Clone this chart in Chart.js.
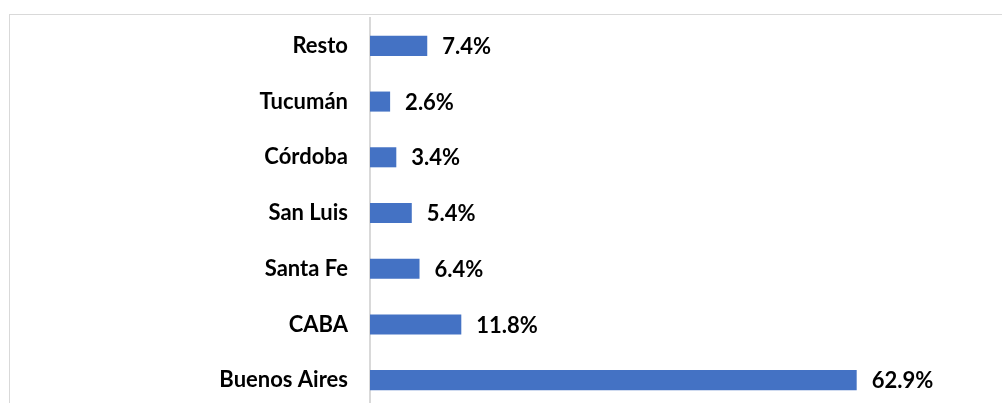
<!DOCTYPE html>
<html>
<head>
<meta charset="utf-8">
<script src="https://cdn.jsdelivr.net/npm/chart.js@4"></script>
<style>
  html, body { margin: 0; padding: 0; background: #fff; overflow: hidden; }
  #wrap { position: relative; width: 1002px; height: 403px; overflow: hidden; }
  #frame { position: absolute; left: 9px; top: 14px; width: 1100px; height: 500px; border: 1px solid #d9d9d9; box-sizing: border-box; }
  #c { position: absolute; left: 0; top: 0; }
</style>
</head>
<body>
<div id="wrap">
  <div id="frame"></div>
  <canvas id="c" width="1002" height="420"></canvas>
</div>
<script>
const provincias = ['Resto', 'Tucumán', 'Córdoba', 'San Luis', 'Santa Fe', 'CABA', 'Buenos Aires'];
const porcentajes = [7.4, 2.6, 3.4, 5.4, 6.4, 11.8, 62.9];

const fuente = 'Lato';

// etiquetas de valor a la derecha de cada barra
const etiquetas = {
    id: 'etiquetas',
    afterDatasetsDraw(chart) {
        const ctx = chart.ctx;
        const meta = chart.getDatasetMeta(0);
        ctx.save();
        ctx.font = `bold 22px ${fuente}`;
        ctx.fillStyle = '#000';
        ctx.textAlign = 'left';
        ctx.textBaseline = 'middle';
        meta.data.forEach((bar, i) => {
            ctx.fillText(porcentajes[i].toFixed(1) + '%', bar.x + 15, bar.y + 1);
        });
        ctx.restore();
    }
};

new Chart(document.getElementById('c'), {
    type: 'bar',
    data: {
        labels: provincias,
        datasets: [{ data: porcentajes, backgroundColor: '#4472C4', barPercentage: 0.36, categoryPercentage: 1.0 }]
    },
    options: {
        indexAxis: 'y',
        responsive: false,
        animation: false,
        layout: { padding: { top: 18, right: 13, bottom: 12, left: 0 } },
        plugins: { legend: { display: false }, tooltip: { enabled: false } },
        scales: {
            x: { display: false, min: 0, max: 80 },
            y: {
                afterFit: (s) => { s.width = 370; s.paddingTop = 0; s.paddingBottom = 0; },
                grid: { display: false, drawTicks: false },
                border: { display: true, color: '#d9d9d9', width: 2 },
                ticks: { color: '#000', padding: 22, font: { family: fuente, size: 22, weight: 'bold' } }
            }
        }
    },
    plugins: [etiquetas]
});
</script>
</body>
</html>
